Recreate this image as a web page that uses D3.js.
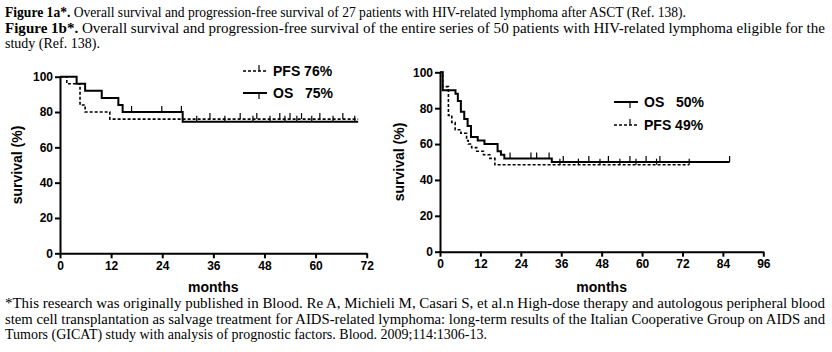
<!DOCTYPE html>
<html>
<head>
<meta charset="utf-8">
<script src="https://cdnjs.cloudflare.com/ajax/libs/d3/7.8.5/d3.min.js"></script>
<style>
    body { margin: 0; background: #fff; }
    svg { display: block; }
    .caption { font-family: 'Liberation Serif', 'Times New Roman', serif; font-size: 14px; fill: #000; }
    .axis path, .axis line { stroke: #000; stroke-width: 2px; }
    .axis text { font-family: 'Liberation Sans', Arial, sans-serif; font-size: 12px; font-weight: bold; fill: #000; }
    .label { font-family: 'Liberation Sans', Arial, sans-serif; font-size: 14px; font-weight: bold; fill: #000; }
</style>
</head>
<body>
<div id="chart"></div>
<script>
// ---- data: figure 1a (27 patients after ASCT) ----
const aOsTime = [0, 3.9, 5.9, 9.8, 13.7, 14.7, 28.8, 70];
const aOsSurv = [100, 96, 92, 88, 84, 80, 74.5, 74.5];
const aOsCensor = [16.8, 23.9, 28.5, 32.1, 38.7, 45.3, 49.3, 52.8, 55.6, 59.1, 64.1, 69.2];
const aPfsTime = [0, 1.6, 4.7, 5.9, 11.7, 70];
const aPfsSurv = [100, 96, 84, 80, 76, 76];
const aPfsCensor = [35.2, 42.3, 46.2, 51.6, 54, 56.7, 61, 66.4];

// ---- data: figure 1b (50 patients eligible) ----
const bOsTime = [0, 0.8, 4.6, 5.3, 6.2, 7.2, 8.2, 9.2, 11.2, 13.2, 17.1, 18.1, 19.1, 33.2, 86];
const bOsSurv = [100, 90, 88, 84, 78, 74, 70, 64, 62, 60, 56, 54, 52, 50, 50];
const bOsCensor = [20.8, 27, 28.7, 32.4, 36.6, 44.2, 50, 56.4, 61.2, 65.3, 86];
const bPfsTime = [0, 0.8, 2.5, 3.5, 4.5, 6.2, 7.9, 8.4, 9.4, 10.9, 12.9, 14.8, 16.3, 74];
const bPfsSurv = [100, 92, 76, 72, 68, 66, 62, 60, 58, 56, 54, 52, 48.5, 48.5];
const bPfsCensor = [35.6, 41.1, 47.5, 53.4, 58.2, 64.3, 74];

const yTicks = [0, 20, 40, 60, 80, 100];
const aXTicks = [0, 12, 24, 36, 48, 60, 72];
const bXTicks = [0, 12, 24, 36, 48, 60, 72, 84, 96];

const captionTop = [
    { bold: 'Figure 1a*.', rest: ' Overall survival and progression-free survival of 27 patients with HIV-related lymphoma after ASCT (Ref. 138).', w: 681 },
    { bold: 'Figure 1b*.', rest: ' Overall survival and progression-free survival of the entire series of 50 patients with HIV-related lymphoma eligible for the', w: 820 },
    { bold: '', rest: 'study (Ref. 138).', w: null },
];
const captionBottom = [
    { text: '*This research was originally published in Blood. Re A, Michieli M, Casari S, et al.n High-dose therapy and autologous peripheral blood', w: 820 },
    { text: 'stem cell transplantation as salvage treatment for AIDS-related lymphoma: long-term results of the Italian Cooperative Group on AIDS and', w: 820 },
    { text: 'Tumors (GICAT) study with analysis of prognostic factors. Blood. 2009;114:1306-13.', w: null },
];

const svg = d3.select('#chart').append('svg').attr('width', 832).attr('height', 352);

// captions (justified lines are stretched to the column width)
captionTop.forEach((c, i) => {
    let t = svg.append('text').attr('class', 'caption')
        .attr('x', 5).attr('y', 17 + i * 15.5);
    if (c.w) t.attr('textLength', c.w).attr('lengthAdjust', 'spacingAndGlyphs');
    if (c.bold) t.append('tspan').attr('font-weight', 'bold').text(c.bold);
    t.append('tspan').text(c.rest);
});
captionBottom.forEach((c, i) => {
    let t = svg.append('text').attr('class', 'caption')
        .attr('x', 5).attr('y', 308 + i * 15.5)
        .text(c.text);
    if (c.w) t.attr('textLength', c.w).attr('lengthAdjust', 'spacingAndGlyphs');
});

function stepAt(times, surv, t) {
    let v = surv[0];
    times.forEach((d, i) => { if (d <= t) v = surv[i]; });
    return v;
}

function drawPanel(cfg) {
    const g = svg.append('g');
    const x = d3.scaleLinear().domain([0, cfg.xMax]).range([cfg.left, cfg.right]);
    const y = d3.scaleLinear().domain([0, 100]).range([cfg.bottom, cfg.top]);

    g.append('g').attr('class', 'axis')
        .attr('transform', `translate(0,${cfg.bottom})`)
        .call(d3.axisBottom(x).tickValues(cfg.xTicks).tickSize(5).tickPadding(3).tickSizeOuter(0));
    g.append('g').attr('class', 'axis')
        .attr('transform', `translate(${cfg.left},0)`)
        .call(d3.axisLeft(y).tickValues(yTicks).tickSize(5).tickPadding(2).tickSizeOuter(0));

    const line = d3.line().curve(d3.curveStepAfter).x((d) => x(d[0])).y((d) => y(d[1]));

    cfg.series.forEach((s) => {
        g.append('path')
            .datum(s.time.map((t, i) => [t, s.surv[i]]))
            .attr('d', line)
            .attr('fill', 'none')
            .attr('stroke', '#000')
            .attr('stroke-width', s.dash ? 1.6 : 2)
            .attr('stroke-dasharray', s.dash ? '3,2' : null);
        // censor ticks
        g.selectAll(null).data(s.censor).enter().append('line')
            .attr('x1', (d) => x(d)).attr('x2', (d) => x(d))
            .attr('y1', (d) => y(stepAt(s.time, s.surv, d)))
            .attr('y2', (d) => y(stepAt(s.time, s.surv, d)) - 6)
            .attr('stroke', '#000').attr('stroke-width', 1.2);
    });

    // legend
    cfg.legend.forEach((l, i) => {
        const ly = cfg.legendY + i * cfg.legendGap;
        g.append('line')
            .attr('x1', cfg.legendX).attr('x2', cfg.legendX + 24)
            .attr('y1', ly).attr('y2', ly)
            .attr('stroke', '#000').attr('stroke-width', l.dash ? 1.6 : 2)
            .attr('stroke-dasharray', l.dash ? '3,2' : null);
        g.append('line')
            .attr('x1', cfg.legendX + 16).attr('x2', cfg.legendX + 16)
            .attr('y1', ly).attr('y2', l.dash ? ly - 6 : ly + 6)
            .attr('stroke', '#000').attr('stroke-width', 1.2);
        g.append('text').attr('class', 'label')
            .attr('x', cfg.legendX + 30).attr('y', ly + 5)
            .attr('xml:space', 'preserve')
            .text(l.name);
    });

    g.append('text').attr('class', 'label')
        .attr('x', (cfg.left + cfg.right) / 2).attr('y', 292)
        .attr('text-anchor', 'middle').text('months');
    g.append('text').attr('class', 'label')
        .attr('transform', `translate(${cfg.ylabX},${(cfg.top + cfg.bottom) / 2}) rotate(-90)`)
        .attr('text-anchor', 'middle').text('survival (%)');
}

drawPanel({
    left: 60, right: 366.7, top: 76.7, bottom: 253.3, xMax: 72, xTicks: aXTicks, ylabX: 22,
    series: [
        { time: aPfsTime, surv: aPfsSurv, censor: aPfsCensor, dash: true },
        { time: aOsTime, surv: aOsSurv, censor: aOsCensor, dash: false },
    ],
    legend: [{ name: 'PFS 76%', dash: true }, { name: 'OS   75%', dash: false }],
    legendX: 243, legendY: 71, legendGap: 22,
});

drawPanel({
    left: 440, right: 763.3, top: 72.3, bottom: 251.7, xMax: 96, xTicks: bXTicks, ylabX: 404,
    series: [
        { time: bPfsTime, surv: bPfsSurv, censor: bPfsCensor, dash: true },
        { time: bOsTime, surv: bOsSurv, censor: bOsCensor, dash: false },
    ],
    legend: [{ name: 'OS   50%', dash: false }, { name: 'PFS 49%', dash: true }],
    legendX: 614, legendY: 102, legendGap: 23,
});
</script>
</body>
</html>
